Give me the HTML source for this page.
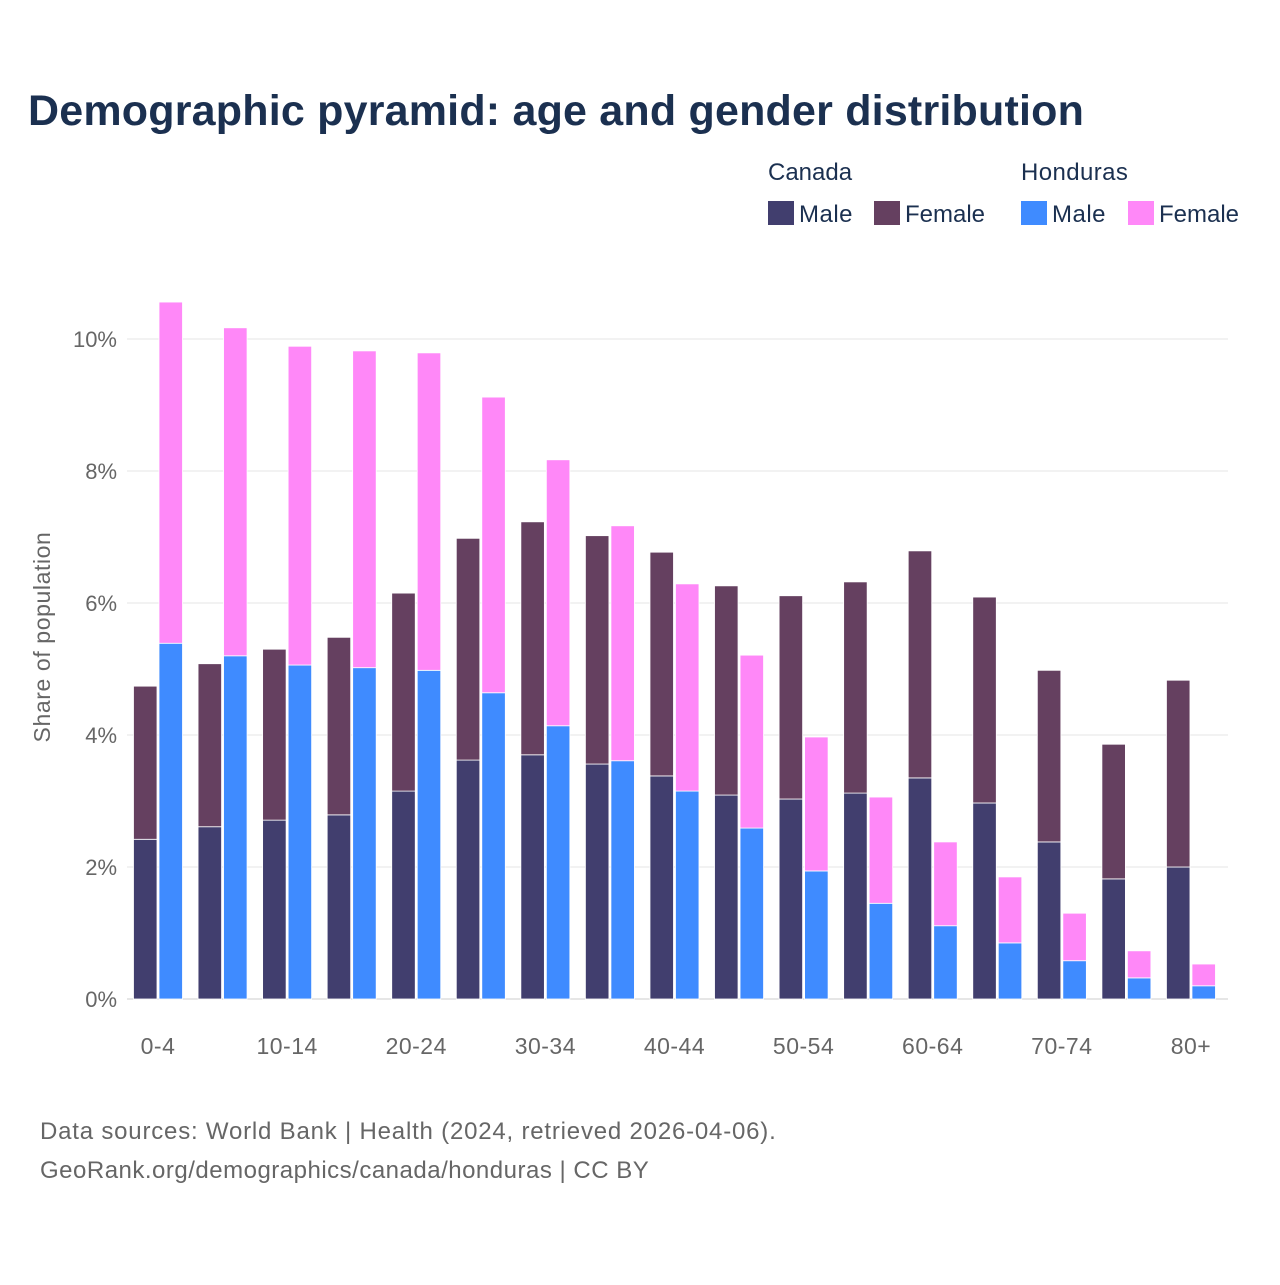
<!DOCTYPE html>
<html><head><meta charset="utf-8"><style>
body{margin:0;background:#fff;font-family:"Liberation Sans",sans-serif}
</style></head><body>
<svg width="1280" height="1280" xmlns="http://www.w3.org/2000/svg" font-family="Liberation Sans, sans-serif">
<rect width="1280" height="1280" fill="#fff"/>
<text x="28" y="125" font-size="43" font-weight="bold" fill="#1b3050" letter-spacing="0.2">Demographic pyramid: age and gender distribution</text>
<g font-size="24" fill="#1b3050">
<text x="768" y="180">Canada</text>
<text x="1021" y="180" letter-spacing="0.4">Honduras</text>
<g><rect x="768" y="201" width="26" height="24" fill="#413e6e"/><text x="799" y="222" letter-spacing="0.5">Male</text></g>
<g><rect x="874" y="201" width="26" height="24" fill="#654060"/><text x="905" y="222">Female</text></g>
<g><rect x="1021" y="201" width="26" height="24" fill="#3f8bff"/><text x="1052" y="222" letter-spacing="0.5">Male</text></g>
<g><rect x="1128" y="201" width="26" height="24" fill="#ff88f8"/><text x="1159" y="222">Female</text></g>
</g>
<g id="grid"></g>
<g id="bars"></g>
<g id="axes"></g>
<text transform="translate(50,637) rotate(-90)" text-anchor="middle" font-size="23" letter-spacing="0.6" fill="#666">Share of population</text>
<text x="40" y="1139" font-size="24" letter-spacing="0.8" fill="#666">Data sources: World Bank | Health (2024, retrieved 2026-04-06).</text>
<text x="40" y="1178" font-size="24" letter-spacing="0.5" fill="#666">GeoRank.org/demographics/canada/honduras | CC BY</text>
</svg>
<script>
const categories=["0-4","5-9","10-14","15-19","20-24","25-29","30-34","35-39","40-44","45-49","50-54","55-59","60-64","65-69","70-74","75-79","80+"];
const canadaMale=[2.42,2.61,2.71,2.79,3.15,3.62,3.70,3.56,3.38,3.09,3.03,3.12,3.35,2.97,2.38,1.82,2.00];
const canadaTotal=[4.74,5.08,5.30,5.48,6.15,6.98,7.23,7.02,6.77,6.26,6.11,6.32,6.79,6.09,4.98,3.86,4.83];
const hondurasMale=[5.39,5.20,5.06,5.02,4.98,4.64,4.14,3.61,3.15,2.59,1.94,1.45,1.11,0.85,0.58,0.32,0.20];
const hondurasTotal=[10.56,10.17,9.89,9.82,9.79,9.12,8.17,7.17,6.29,5.21,3.97,3.06,2.38,1.85,1.30,0.73,0.53];
const yTicks=[0,2,4,6,8,10];
const xLabelIdx=[0,2,4,6,8,10,12,14,16];
const NS="http://www.w3.org/2000/svg";
const y=v=>999-v*66;
const xc=i=>158+i*64.56;
function mk(tag,attrs,parent){const e=document.createElementNS(NS,tag);for(const k in attrs)e.setAttribute(k,attrs[k]);parent.appendChild(e);return e;}
const grid=document.getElementById('grid'),bars=document.getElementById('bars'),axes=document.getElementById('axes');
yTicks.forEach(t=>{
 const l=mk('line',{x1:127,x2:1228,y1:y(t),y2:y(t),stroke:t===0?'#ccc':'#e6e6e6','stroke-width':1},grid);
 
 
 const tx=mk('text',{x:117,y:y(t)+8,'text-anchor':'end','font-size':22,fill:'#666'},axes);
 tx.textContent=t+'%';
 
 
});
xLabelIdx.forEach(i=>{
 const tx=mk('text',{x:xc(i),y:1054,'text-anchor':'middle','font-size':23,'letter-spacing':0.5,fill:'#666'},axes);
 tx.textContent=categories[i];
 
 
});
function seg(x,v0,v1,color,name){
 const r=mk('rect',{x:x,y:y(v1),width:23.5,height:y(v0)-y(v1),fill:color,stroke:'#fff','stroke-width':0.8},bars);
 
 
}
categories.forEach((c,i)=>{
 const cx=xc(i);
 seg(cx-24.5,0,canadaMale[i],'#413e6e','bar-canada-male-'+c);
 seg(cx-24.5,canadaMale[i],canadaTotal[i],'#654060','bar-canada-female-'+c);
 seg(cx+1,0,hondurasMale[i],'#3f8bff','bar-honduras-male-'+c);
 seg(cx+1,hondurasMale[i],hondurasTotal[i],'#ff88f8','bar-honduras-female-'+c);
});
</script>
</body></html>
